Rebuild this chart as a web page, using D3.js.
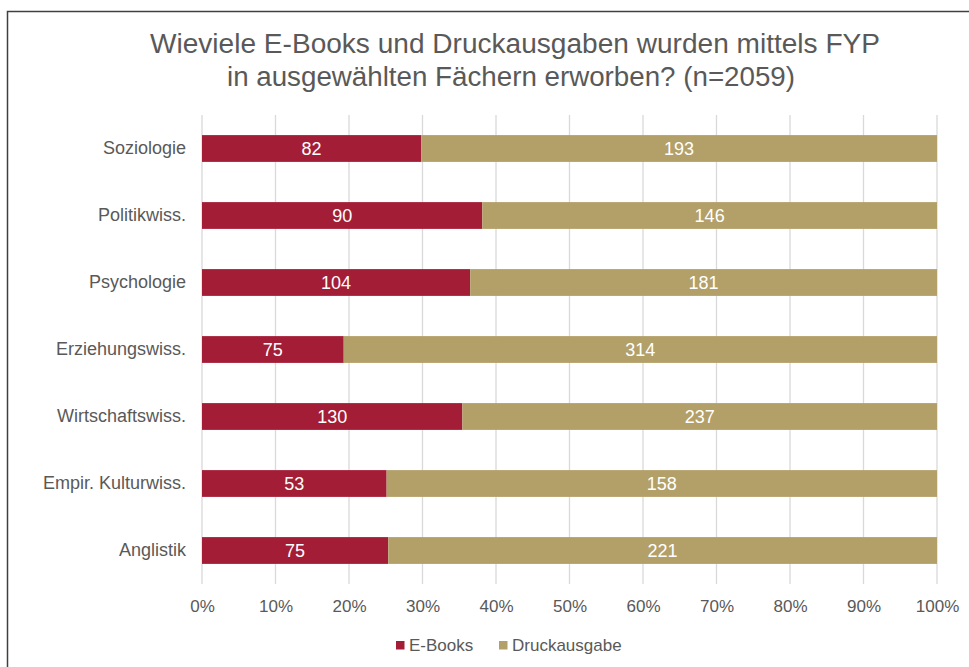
<!DOCTYPE html>
<html>
<head>
<meta charset="utf-8">
<script src="https://cdn.jsdelivr.net/npm/d3@7"></script>
<style>
  body { margin: 0; background: #fff; }
  text { font-family: "Liberation Sans", Arial, sans-serif; }
</style>
</head>
<body>
<svg id="chart" width="969" height="667"></svg>
<script>
const categories = [
  "Soziologie",
  "Politikwiss.",
  "Psychologie",
  "Erziehungswiss.",
  "Wirtschaftswiss.",
  "Empir. Kulturwiss.",
  "Anglistik"
];
const ebooks = [82, 90, 104, 75, 130, 53, 75];
const druck = [193, 146, 181, 314, 237, 158, 221];
const seriesNames = ["E-Books", "Druckausgabe"];
const colors = ["#A31D36", "#B39F68"];
const tickValues = [0, 0.1, 0.2, 0.3, 0.4, 0.5, 0.6, 0.7, 0.8, 0.9, 1];

const svg = d3.select("#chart"),
  margin = { top: 115, right: 32, bottom: 83, left: 202 },
  width = +svg.attr("width") - margin.left - margin.right,
  height = +svg.attr("height") - margin.top - margin.bottom;

// outer frame (continues past the right and bottom edges)
svg.append("rect")
  .attr("x", 7.5)
  .attr("y", 11.5)
  .attr("width", 1000)
  .attr("height", 1000)
  .attr("fill", "none")
  .attr("stroke", "#404040")
  .attr("stroke-width", 1.5);

const g = svg.append("g")
  .attr("transform", `translate(${margin.left},${margin.top})`);

const x = d3.scaleLinear().domain([0, 1]).range([0, width]);
const y = d3.scaleBand().domain(categories).range([0, height]).paddingInner(0.6).paddingOuter(0.3);

// gridlines
g.selectAll(".grid")
  .data(tickValues)
  .enter()
  .append("line")
  .attr("x1", (d) => x(d))
  .attr("x2", (d) => x(d))
  .attr("y1", 0)
  .attr("y2", height)
  .attr("stroke", "#d9d9d9")
  .attr("stroke-width", 1.3);

// x axis labels
const xAxis = g.append("g")
  .attr("transform", `translate(0,${height})`)
  .call(d3.axisBottom(x).tickValues(tickValues).tickFormat(d3.format(".0%")).tickSize(0).tickPadding(16));
xAxis.select(".domain").remove();
xAxis.selectAll("text")
  .attr("fill", "#595959")
  .attr("font-size", "17px");

// y axis labels
const yAxis = g.append("g")
  .call(d3.axisLeft(y).tickSize(0).tickPadding(16));
yAxis.select(".domain").remove();
yAxis.selectAll("text")
  .attr("fill", "#595959")
  .attr("font-size", "18px");

// stacked 100% bars
const rows = categories.map((c, i) => ({ cat: c, vals: [ebooks[i], druck[i]] }));
rows.forEach((r) => {
  const total = r.vals[0] + r.vals[1];
  let acc = 0;
  r.vals.forEach((v, k) => {
    const x0 = x(acc / total), x1 = x((acc + v) / total);
    g.append("rect")
      .attr("x", x0)
      .attr("y", y(r.cat))
      .attr("width", x1 - x0)
      .attr("height", y.bandwidth())
      .attr("fill", colors[k]);
    g.append("text")
      .attr("x", (x0 + x1) / 2)
      .attr("y", y(r.cat) + y.bandwidth() / 2)
      .attr("dy", "0.36em")
      .attr("text-anchor", "middle")
      .attr("fill", "#fff")
      .attr("font-size", "18px")
      .text(v);
    acc += v;
  });
});

// title
const title = svg.append("text")
  .attr("text-anchor", "middle")
  .attr("fill", "#595959")
  .attr("font-size", "27px");
title.append("tspan").attr("x", 515).attr("y", 53)
  .attr("textLength", 730).attr("lengthAdjust", "spacingAndGlyphs")
  .text("Wieviele E-Books und Druckausgaben wurden mittels FYP");
title.append("tspan").attr("x", 511).attr("y", 86)
  .attr("textLength", 568).attr("lengthAdjust", "spacingAndGlyphs")
  .text("in ausgewählten Fächern erworben? (n=2059)");

// legend
const legend = svg.append("g").attr("transform", "translate(396,645)");
const legendX = [0, 103];
seriesNames.forEach((s, i) => {
  const lg = legend.append("g").attr("transform", `translate(${legendX[i]},0)`);
  lg.append("rect")
    .attr("x", 0)
    .attr("y", -4)
    .attr("width", 8.5)
    .attr("height", 8.5)
    .attr("fill", colors[i]);
  lg.append("text")
    .attr("x", 13)
    .attr("y", 0)
    .attr("dy", "0.36em")
    .attr("fill", "#595959")
    .attr("font-size", "17px")
    .text(s);
});
</script>
</body>
</html>
